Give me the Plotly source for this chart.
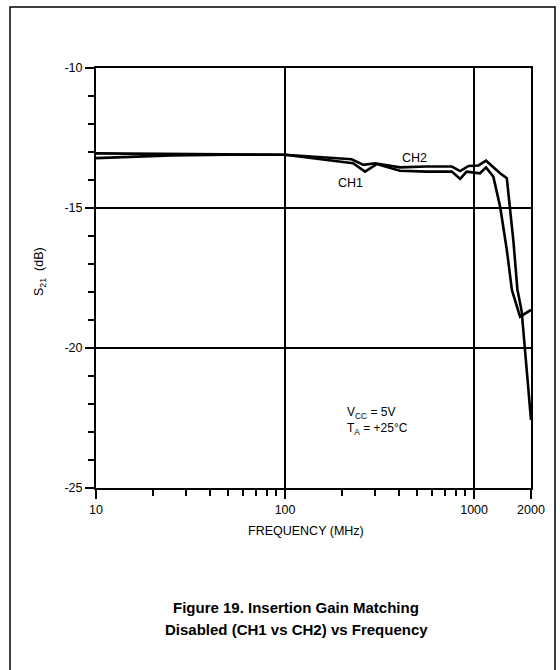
import plotly.graph_objects as go

# Insertion gain S21 (dB) vs frequency (MHz), two channels
freq_ch1 = [10, 20, 50, 100, 229, 265, 305, 405, 562, 762, 844, 912, 1074, 1157,
            1264, 1373, 1490, 1585, 1750, 2000]
s21_ch1 = [-13.05, -13.07, -13.09, -13.10, -13.40, -13.70, -13.43, -13.67, -13.70,
           -13.70, -13.96, -13.70, -13.76, -13.55, -13.88, -14.95, -16.50, -17.93,
           -18.88, -18.64]

freq_ch2 = [10, 15, 25, 50, 100, 225, 260, 299, 405, 562, 762, 844, 934, 1055, 1157,
            1373, 1490, 1615, 1694, 1786, 1862, 1940, 2000]
s21_ch2 = [-13.22, -13.18, -13.12, -13.10, -13.10, -13.26, -13.46, -13.40, -13.55,
           -13.52, -13.52, -13.68, -13.50, -13.48, -13.31, -13.76, -13.94, -16.20,
           -17.90, -18.70, -20.07, -21.50, -22.57]

x_major = [10, 100, 1000, 2000]
x_major_text = ["10", "100", "1000", "2000"]
x_minor = [20, 30, 40, 50, 60, 70, 80, 90, 200, 300, 400, 500, 600, 700, 800, 900]
y_major = [-25, -20, -15, -10]
y_major_text = ["-25", "-20", "-15", "-10"]

FONT = "Liberation Sans, Arial, Helvetica, sans-serif"
W, H = 560, 670
L, R, T, B = 96, 29, 68, 182
PW, PH = W - L - R, H - T - B


def px(xp):
    return (xp - L) / PW


def py(yp):
    return (H - B - yp) / PH


def label(xp, yp, text, size=12.5, xanchor="center", angle=0):
    return dict(x=px(xp), y=py(yp), xref="paper", yref="paper", text=text,
                showarrow=False, xanchor=xanchor, yanchor="middle",
                textangle=angle, font=dict(size=size, family=FONT, color="black"))


fig = go.Figure()
fig.add_trace(go.Scatter(x=freq_ch1, y=s21_ch1, mode="lines", name="CH1",
                         line=dict(color="black", width=2.6)))
fig.add_trace(go.Scatter(x=freq_ch2, y=s21_ch2, mode="lines", name="CH2",
                         line=dict(color="black", width=2.6)))

fig.update_layout(
    width=W, height=H,
    margin=dict(l=L, r=R, t=T, b=B),
    paper_bgcolor="white", plot_bgcolor="white",
    showlegend=False,
    font=dict(family=FONT, color="black", size=12.5),
)

fig.update_xaxes(
    type="log", range=[1, 3.30103],
    tickmode="array", tickvals=x_major, ticktext=x_major_text,
    ticks="outside", ticklen=9, tickwidth=2, tickcolor="black",
    showgrid=True, gridcolor="black", gridwidth=1.8,
    showline=True, linecolor="black", linewidth=2, mirror=True,
    zeroline=False,
    tickfont=dict(size=12.5, family=FONT),
    minor=dict(tickmode="array", tickvals=x_minor, ticks="outside",
               ticklen=6, tickwidth=1.5, tickcolor="black", showgrid=False),
)
fig.update_yaxes(
    range=[-25, -10],
    tickmode="array", tickvals=y_major, ticktext=y_major_text,
    ticks="outside", ticklen=9, tickwidth=1.5, tickcolor="black",
    showgrid=True, gridcolor="black", gridwidth=1.6,
    showline=True, linecolor="black", linewidth=2, mirror=True,
    zeroline=False,
    tickfont=dict(size=12.5, family=FONT),
    minor=dict(dtick=1, ticks="outside", ticklen=6, tickwidth=1.5,
               tickcolor="black", showgrid=False),
)

ann = [
    # axis titles
    label(306, 531, "FREQUENCY (MHz)"),
    label(40, 272, "S<sub>21</sub>  (dB)", angle=-90),
    # curve labels
    label(414, 158, "CH2"),
    label(350, 183, "CH1"),
    # operating conditions
    label(345, 413, "V<sub>CC</sub> = 5V", size=12, xanchor="left"),
    label(345, 429, "T<sub>A</sub> = +25°C", size=12, xanchor="left"),
    # caption
    label(296, 607, "<b>Figure 19. Insertion Gain Matching</b>", size=15),
    label(296, 629, "<b>Disabled (CH1 vs CH2) vs Frequency</b>", size=15),
]
fig.update_layout(annotations=ann)

# outer frame around the figure
fig.add_shape(type="rect", xref="paper", yref="paper",
              x0=px(10), x1=px(555), y0=py(680), y1=py(7),
              line=dict(color="black", width=1.5), layer="below")

fig.write_html("out.html")
